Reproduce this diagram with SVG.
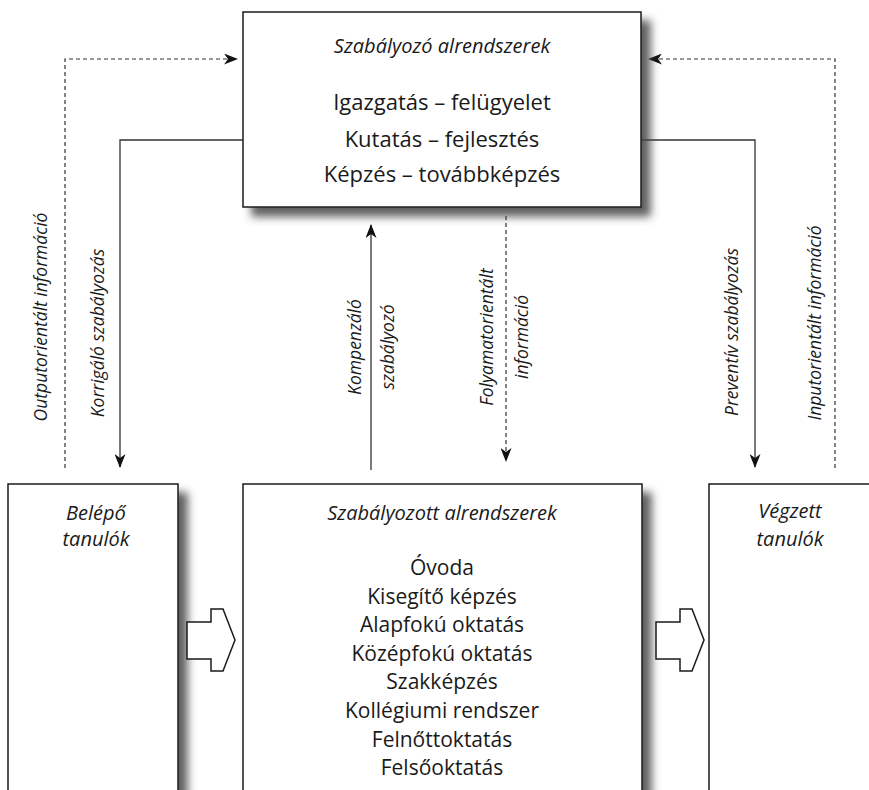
<svg xmlns="http://www.w3.org/2000/svg" width="869" height="790" viewBox="0 0 869 790">
<style>
.box{fill:#fff;stroke:#1a1a1a;stroke-width:1.5}
.ln{fill:none;stroke:#333;stroke-width:1.3}
.dash{fill:none;stroke:#333;stroke-width:1.2;stroke-dasharray:4 3}
.t{font-family:"Open Sans","Liberation Sans",sans-serif;fill:#1a1a1a;text-anchor:middle}
.it{font-style:italic}
.r{font-size:17.5px}
.hd{font-size:20px}
.big{font-size:22px}
.li{font-size:21px}
.blk{fill:#fff;stroke:#1a1a1a;stroke-width:1.5;stroke-linejoin:miter}
</style>
<defs>
<filter id="sh" x="-20%" y="-20%" width="140%" height="140%">
<feGaussianBlur in="SourceAlpha" stdDeviation="4"/>
<feOffset dx="9" dy="9" result="b"/>
<feFlood flood-color="#444" flood-opacity="0.85"/>
<feComposite in2="b" operator="in"/>
<feMerge><feMergeNode/><feMergeNode in="SourceGraphic"/></feMerge>
</filter>
<marker id="ar" viewBox="0 0 14 11" refX="13" refY="5.5" markerWidth="14" markerHeight="11" markerUnits="userSpaceOnUse" orient="auto">
<path d="M0,0 L14,5.5 L0,11 L4,5.5 z" fill="#111"/>
</marker>
</defs>

<g id="connectors">
<path class="dash" d="M65,468 V59 H237" marker-end="url(#ar)"/>
<path class="ln" d="M243,140 H120 V467" marker-end="url(#ar)"/>
<path class="ln" d="M641,140 H755 V467" marker-end="url(#ar)"/>
<path class="dash" d="M835,468 V59 H649" marker-end="url(#ar)"/>
<path class="ln" d="M371,470 V225" marker-end="url(#ar)"/>
<path class="dash" d="M506,216 V461" marker-end="url(#ar)"/>
<text class="t it r" transform="translate(47,317) rotate(-90)">Outputorientált információ</text>
<text class="t it r" transform="translate(104,333) rotate(-90)">Korrigáló szabályozás</text>
<text class="t it r" transform="translate(738,332) rotate(-90)">Preventív szabályozás</text>
<text class="t it r" transform="translate(821,323) rotate(-90)">Inputorientált információ</text>
<text class="t it r" transform="translate(361,347) rotate(-90)">Kompenzáló</text>
<text class="t it r" transform="translate(394,347) rotate(-90)">szabályozó</text>
<text class="t it r" transform="translate(493,337) rotate(-90)">Folyamatorientált</text>
<text class="t it r" transform="translate(528,337) rotate(-90)">információ</text>
</g>

<g id="szabalyozo">
<rect class="box" x="243" y="12" width="398" height="195" filter="url(#sh)"/>
<text class="t it hd" x="442" y="53">Szabályozó alrendszerek</text>
<text class="t big" x="442" y="110">Igazgatás – felügyelet</text>
<text class="t big" x="442" y="147">Kutatás – fejlesztés</text>
<text class="t big" x="442" y="182">Képzés – továbbképzés</text>
</g>

<g id="belepo">
<rect class="box" x="8" y="484" width="170" height="320" filter="url(#sh)"/>
<text class="t it hd" x="96" y="520">Belépő</text>
<text class="t it hd" x="96" y="546">tanulók</text>
</g>

<g id="szabalyozott">
<rect class="box" x="243" y="484" width="399" height="320" filter="url(#sh)"/>
<text class="t it hd" x="442" y="520">Szabályozott alrendszerek</text>
<text class="t li" x="442" y="575">Óvoda</text>
<text class="t li" x="442" y="604">Kisegítő képzés</text>
<text class="t li" x="442" y="632">Alapfokú oktatás</text>
<text class="t li" x="442" y="661">Középfokú oktatás</text>
<text class="t li" x="442" y="689">Szakképzés</text>
<text class="t li" x="442" y="718">Kollégiumi rendszer</text>
<text class="t li" x="442" y="747">Felnőttoktatás</text>
<text class="t li" x="442" y="775">Felsőoktatás</text>
</g>

<g id="vegzett">
<rect class="box" x="709" y="484" width="180" height="320"/>
<text class="t it hd" x="790" y="518">Végzett</text>
<text class="t it hd" x="790" y="546">tanulók</text>
</g>

<g id="flow1">
<path class="blk" d="M187,622 H211 V609 H223 L235,640 L223,671 H211 V659 H187 Z"/>
</g>
<g id="flow2">
<path class="blk" d="M656,622 H680 V609 H692 L704,640 L692,671 H680 V659 H656 Z"/>
</g>
</svg>
